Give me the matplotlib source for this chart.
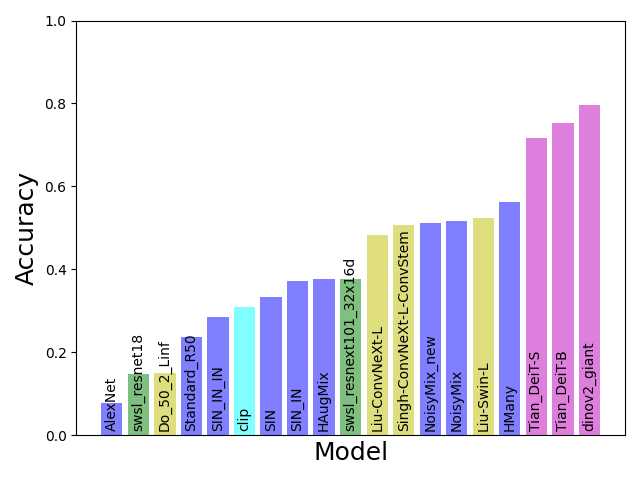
import matplotlib
matplotlib.use("Agg")
import matplotlib.pyplot as plt

models = ["AlexNet", "swsl_resnet18", "Do_50_2_Linf", "Standard_R50", "SIN_IN_IN",
          "clip", "SIN", "SIN_IN", "HAugMix", "swsl_resnext101_32x16d",
          "Liu-ConvNeXt-L", "Singh-ConvNeXt-L-ConvStem", "NoisyMix_new", "NoisyMix",
          "Liu-Swin-L", "HMany", "Tian_DeiT-S", "Tian_DeiT-B", "dinov2_giant"]
accuracy = [0.077, 0.147, 0.150, 0.237, 0.285, 0.309, 0.333, 0.372, 0.377, 0.377,
            0.483, 0.507, 0.512, 0.517, 0.524, 0.563, 0.717, 0.754, 0.797]
colors = ["b", "g", "y", "b", "b", "cyan", "b", "b", "b", "g",
          "y", "y", "b", "b", "y", "b", "m", "m", "m"]

fig, ax = plt.subplots(figsize=(6.4, 4.8), dpi=100)
x = range(len(models))
ax.bar(x, accuracy, color=colors, alpha=0.5)
for i, name in enumerate(models):
    ax.text(i, 0.011, name, rotation=90, ha="center", va="bottom", fontsize=10)
ax.set_xticks([])
ax.set_ylim(0, 1)
ax.set_xlabel("Model", fontsize=18)
ax.set_ylabel("Accuracy", fontsize=18)
plt.tight_layout()
plt.savefig("out.png")
